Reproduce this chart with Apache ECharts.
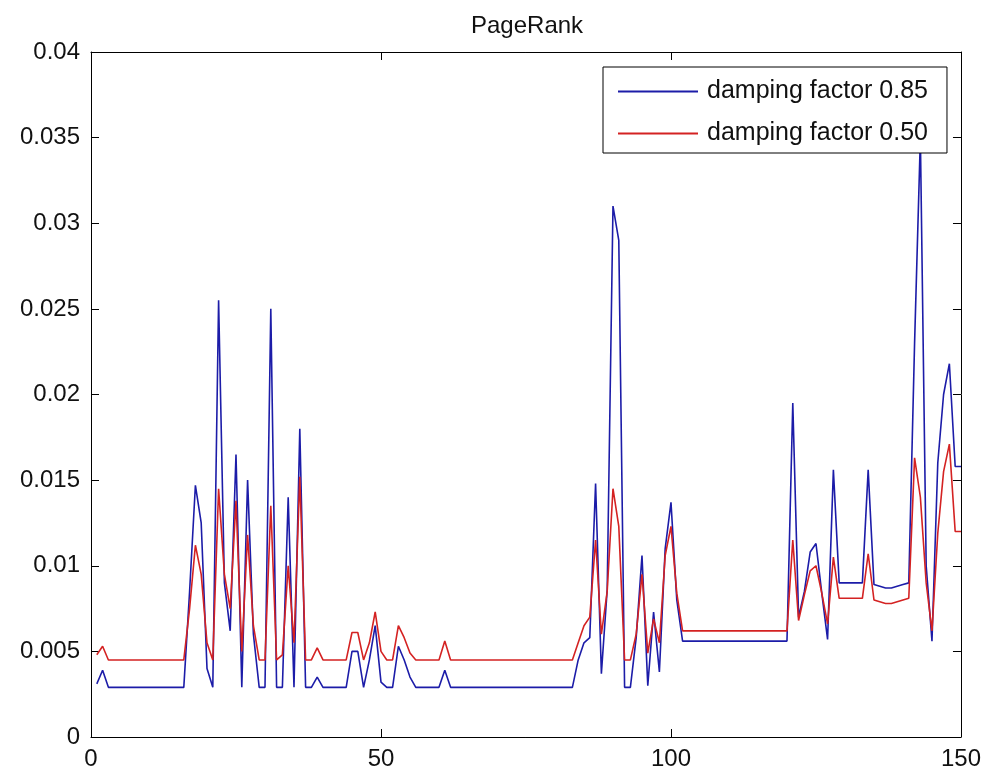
<!DOCTYPE html>
<html>
<head>
<meta charset="utf-8">
<script src="https://cdn.jsdelivr.net/npm/echarts@6/dist/echarts.min.js"></script>
<style>
  html, body { margin: 0; padding: 0; background: #fff; }
  #chart { width: 984px; height: 773px; }
</style>
</head>
<body>
<div id="chart"></div>
<script>
// PageRank per page (pages 1..150)
const xStart = 1
const xTicks = [0, 50, 100, 150]
const yTicks = [0, 0.005, 0.01, 0.015, 0.02, 0.025, 0.03, 0.035, 0.04]
const seriesNames = ['damping factor 0.85', 'damping factor 0.50']

const pr085 = [
    0.0031, 0.0039, 0.0029, 0.0029, 0.0029, 0.0029, 0.0029, 0.0029, 0.0029, 0.0029,
    0.0029, 0.0029, 0.0029, 0.0029, 0.0029, 0.0029, 0.0085, 0.0147, 0.0125, 0.0040,
    0.0029, 0.0255, 0.0090, 0.0062, 0.0165, 0.0029, 0.0150, 0.0060, 0.0029, 0.0029,
    0.0250, 0.0029, 0.0029, 0.0140, 0.0029, 0.0180, 0.0029, 0.0029, 0.0035, 0.0029,
    0.0029, 0.0029, 0.0029, 0.0029, 0.0050, 0.0050, 0.0029, 0.0045, 0.0065, 0.0032,
    0.0029, 0.0029, 0.0053, 0.0045, 0.0035, 0.0029, 0.0029, 0.0029, 0.0029, 0.0029,
    0.0039, 0.0029, 0.0029, 0.0029, 0.0029, 0.0029, 0.0029, 0.0029, 0.0029, 0.0029,
    0.0029, 0.0029, 0.0029, 0.0029, 0.0029, 0.0029, 0.0029, 0.0029, 0.0029, 0.0029,
    0.0029, 0.0029, 0.0029, 0.0045, 0.0055, 0.0058, 0.0148, 0.0037, 0.0086, 0.0310,
    0.0290, 0.0029, 0.0029, 0.0058, 0.0106, 0.0030, 0.0073, 0.0038, 0.0110, 0.0137,
    0.0080, 0.0056, 0.0056, 0.0056, 0.0056, 0.0056, 0.0056, 0.0056, 0.0056, 0.0056,
    0.0056, 0.0056, 0.0056, 0.0056, 0.0056, 0.0056, 0.0056, 0.0056, 0.0056, 0.0056,
    0.0195, 0.0070, 0.0085, 0.0108, 0.0113, 0.0084, 0.0057, 0.0156, 0.0090, 0.0090,
    0.0090, 0.0090, 0.0090, 0.0156, 0.0089, 0.0088, 0.0087, 0.0087, 0.0088, 0.0089,
    0.0090, 0.0230, 0.0350, 0.0100, 0.0056, 0.0160, 0.0200, 0.0218, 0.0158, 0.0158
]

const pr050 = [
    0.0048, 0.0053, 0.0045, 0.0045, 0.0045, 0.0045, 0.0045, 0.0045, 0.0045, 0.0045,
    0.0045, 0.0045, 0.0045, 0.0045, 0.0045, 0.0045, 0.0075, 0.0112, 0.0095, 0.0055,
    0.0045, 0.0145, 0.0095, 0.0075, 0.0138, 0.0050, 0.0118, 0.0065, 0.0045, 0.0045,
    0.0135, 0.0045, 0.0048, 0.0100, 0.0055, 0.0152, 0.0045, 0.0045, 0.0052, 0.0045,
    0.0045, 0.0045, 0.0045, 0.0045, 0.0061, 0.0061, 0.0045, 0.0055, 0.0073, 0.0050,
    0.0045, 0.0045, 0.0065, 0.0058, 0.0049, 0.0045, 0.0045, 0.0045, 0.0045, 0.0045,
    0.0056, 0.0045, 0.0045, 0.0045, 0.0045, 0.0045, 0.0045, 0.0045, 0.0045, 0.0045,
    0.0045, 0.0045, 0.0045, 0.0045, 0.0045, 0.0045, 0.0045, 0.0045, 0.0045, 0.0045,
    0.0045, 0.0045, 0.0045, 0.0055, 0.0065, 0.0070, 0.0115, 0.0060, 0.0085, 0.0145,
    0.0123, 0.0045, 0.0045, 0.0060, 0.0095, 0.0049, 0.0069, 0.0055, 0.0106, 0.0123,
    0.0084, 0.0062, 0.0062, 0.0062, 0.0062, 0.0062, 0.0062, 0.0062, 0.0062, 0.0062,
    0.0062, 0.0062, 0.0062, 0.0062, 0.0062, 0.0062, 0.0062, 0.0062, 0.0062, 0.0062,
    0.0115, 0.0068, 0.0083, 0.0097, 0.0100, 0.0084, 0.0066, 0.0105, 0.0081, 0.0081,
    0.0081, 0.0081, 0.0081, 0.0107, 0.0080, 0.0079, 0.0078, 0.0078, 0.0079, 0.0080,
    0.0081, 0.0163, 0.0140, 0.0090, 0.0062, 0.0119, 0.0155, 0.0171, 0.0120, 0.0120
]

const font = 'Liberation Sans, Arial, sans-serif'

function toPoints(values) {
    return values.map((v, i) => [xStart + i, v])
}

function valueAxis(base, extra) {
    return Object.assign({
        type: 'value',
        min: base[0],
        max: base[base.length - 1],
        interval: base[1] - base[0],
        splitLine: { show: false },
        axisLine: { show: true, onZero: false, lineStyle: { color: '#000', width: 1 } },
        axisTick: { show: true, inside: true, length: 8, lineStyle: { color: '#000' } },
        axisLabel: { color: '#111', fontSize: 24, fontFamily: font, margin: 10 }
    }, extra)
}

const chart = echarts.init(document.getElementById('chart'))

chart.setOption({
    animation: false,
    backgroundColor: '#fff',
    title: {
        text: 'PageRank',
        left: 466,
        top: 9,
        textStyle: { color: '#111', fontSize: 24, fontWeight: 'normal', fontFamily: font }
    },
    grid: { left: 91, right: 22, top: 52, bottom: 36, containLabel: false },
    legend: {
        orient: 'vertical',
        left: 603,
        top: 67,
        padding: [12, 19, 7, 15],
        icon: 'rect',
        itemWidth: 80,
        itemHeight: 2,
        itemGap: 17,
        backgroundColor: '#fff',
        borderColor: '#000',
        borderWidth: 1,
        textStyle: { color: '#111', fontSize: 25, fontFamily: font, padding: [0, 0, 0, 4] },
        data: seriesNames
    },
    xAxis: [
        valueAxis(xTicks, { position: 'bottom' }),
        valueAxis(xTicks, { position: 'top', axisLabel: { show: false } })
    ],
    yAxis: [
        valueAxis(yTicks, {
            position: 'left',
            axisLabel: { color: '#111', fontSize: 24, fontFamily: font, margin: 11 }
        }),
        valueAxis(yTicks, { position: 'right', axisLabel: { show: false } })
    ],
    series: [
        {
            name: seriesNames[0],
            type: 'line',
            xAxisIndex: 0,
            yAxisIndex: 0,
            symbol: 'none',
            data: toPoints(pr085),
            lineStyle: { color: '#1c1ca8', width: 1.6 },
            itemStyle: { color: '#1c1ca8' }
        },
        {
            name: seriesNames[1],
            type: 'line',
            xAxisIndex: 0,
            yAxisIndex: 0,
            symbol: 'none',
            data: toPoints(pr050),
            lineStyle: { color: '#d42222', width: 1.6 },
            itemStyle: { color: '#d42222' }
        }
    ]
})
</script>
</body>
</html>
